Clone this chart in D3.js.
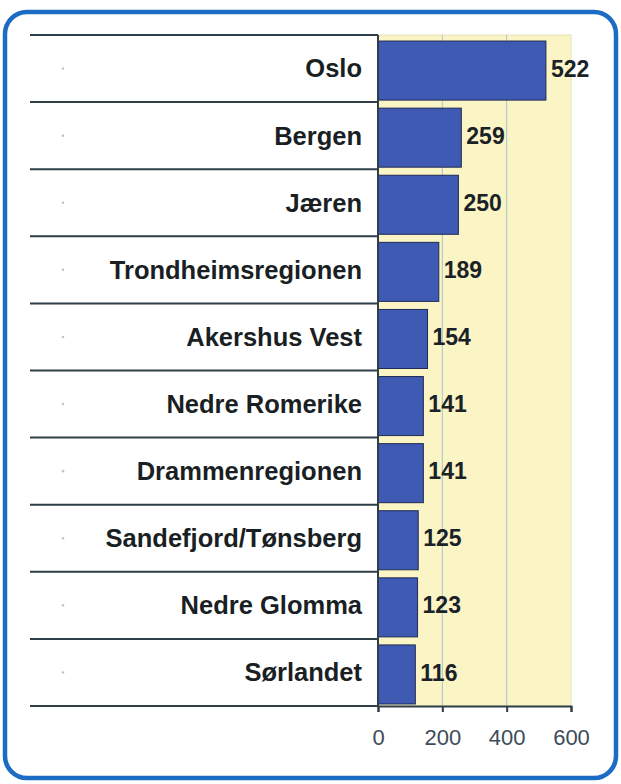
<!DOCTYPE html>
<html>
<head>
<meta charset="utf-8">
<script src="https://cdn.jsdelivr.net/npm/d3@7"></script>
<style>
  body { margin: 0; background: #fff; }
  svg { display: block; }
</style>
</head>
<body>
<script>
var regions = ['Oslo', 'Bergen', 'Jæren', 'Trondheimsregionen', 'Akershus Vest',
        'Nedre Romerike', 'Drammenregionen', 'Sandefjord/Tønsberg', 'Nedre Glomma', 'Sørlandet'],
    counts = [522, 259, 250, 189, 154, 141, 141, 125, 123, 116],
    ticks = [0, 200, 400, 600];

(function () {
    var width = 621,
        height = 784,
        left = 30,
        x0 = 378,
        x1 = 571,
        top = 35,
        bottom = 706,
        svg, x, y, bw;

    svg = d3.select('body').append('svg')
        .attr('width', width)
        .attr('height', height);

    // rounded blue frame
    svg.append('rect')
        .attr('x', 5).attr('y', 12)
        .attr('width', 611).attr('height', 766)
        .attr('rx', 22).attr('ry', 22)
        .attr('fill', '#fff')
        .attr('stroke', '#1c6cc4')
        .attr('stroke-width', 4.5);

    x = d3.scaleLinear().domain([0, 600]).range([x0, x1]);
    y = d3.scaleBand().domain(regions).range([top, bottom]);
    bw = y.bandwidth();

    // plot background
    svg.append('rect')
        .attr('x', x0).attr('y', top)
        .attr('width', x1 - x0).attr('height', bottom - top)
        .attr('fill', '#fbf5c6')
        .attr('stroke', '#e6e2b8');

    // gridlines
    svg.selectAll('line.grid').data(ticks.slice(1, 3)).enter().append('line')
        .attr('class', 'grid')
        .attr('x1', function (d) { return x(d); })
        .attr('x2', function (d) { return x(d); })
        .attr('y1', top).attr('y2', bottom)
        .attr('stroke', '#a8c4c8')
        .attr('stroke-width', 1);

    // category separators
    svg.selectAll('line.sep').data(regions.concat(['_end'])).enter().append('line')
        .attr('class', 'sep')
        .attr('x1', left).attr('x2', x0)
        .attr('y1', function (d, i) { return top + i * bw; })
        .attr('y2', function (d, i) { return top + i * bw; })
        .attr('stroke', '#2f3f4a')
        .attr('stroke-width', 2);

    // faint dots on the left
    svg.selectAll('circle.dot').data(regions).enter().append('circle')
        .attr('class', 'dot')
        .attr('cx', 63)
        .attr('cy', function (d) { return y(d) + bw / 2; })
        .attr('r', 1.3)
        .attr('fill', '#b6c8d8');

    // bars
    svg.selectAll('rect.bar').data(counts).enter().append('rect')
        .attr('class', 'bar')
        .attr('x', x(0))
        .attr('y', function (d, i) { return y(regions[i]) + bw * 0.09; })
        .attr('width', function (d) { return x(d) - x(0); })
        .attr('height', bw * 0.88)
        .attr('fill', '#3f5ab2')
        .attr('stroke', '#1f2b55')
        .attr('stroke-width', 1);

    // category labels
    svg.selectAll('text.cat').data(regions).enter().append('text')
        .attr('class', 'cat')
        .attr('x', 362)
        .attr('y', function (d) { return y(d) + bw / 2; })
        .attr('dy', '.35em')
        .attr('text-anchor', 'end')
        .style('font', 'bold 25.5px "Liberation Sans", Arial, sans-serif')
        .style('fill', '#1a1f24')
        .text(function (d) { return d; });

    // value labels
    svg.selectAll('text.val').data(counts).enter().append('text')
        .attr('class', 'val')
        .attr('x', function (d) { return x(d) + 5; })
        .attr('y', function (d, i) { return y(regions[i]) + bw / 2; })
        .attr('dy', '.35em')
        .style('font', 'bold 23px "Liberation Sans", Arial, sans-serif')
        .style('fill', '#1a2228')
        .text(function (d) { return d; });

    // axis lines
    svg.append('line')
        .attr('x1', x0).attr('x2', x0)
        .attr('y1', top).attr('y2', bottom)
        .attr('stroke', '#2f3f4a').attr('stroke-width', 2);

    var axis = svg.append('g')
        .attr('transform', 'translate(0,' + bottom + ')')
        .call(d3.axisBottom(x).tickValues(ticks).tickSize(6).tickPadding(17));
    axis.select('.domain').attr('stroke', '#2f3f4a').attr('stroke-width', 2);
    axis.selectAll('.tick line').attr('stroke', '#2f3f4a').attr('stroke-width', 2);
    axis.selectAll('.tick text')
        .style('font', '22px "Liberation Sans", Arial, sans-serif')
        .style('fill', '#3c4c5a');
}());
</script>
</body>
</html>
